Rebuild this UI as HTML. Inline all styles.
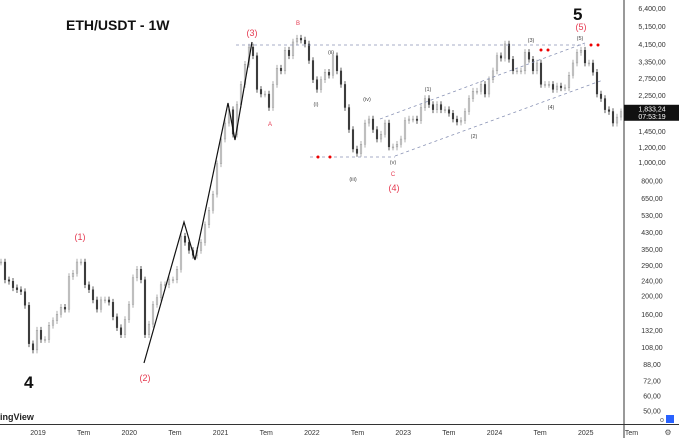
<!DOCTYPE html>
<html><head><meta charset="utf-8"><style>
body{margin:0;background:#fff;width:679px;height:438px;overflow:hidden;font-family:"Liberation Sans",sans-serif}
svg{display:block}
</style></head><body>
<svg id="chart" width="679" height="438" xmlns="http://www.w3.org/2000/svg">
<rect width="679" height="438" fill="#fff"/>
<g id="candles"></g>
<g id="axis"></g>
</svg>
<script>
// biweekly-ish closes (USDT), starting Aug 2018
const closes=[300,242,238,220,215,210,178,112,104,132,118,118,140,148,160,174,170,252,262,300,300,228,215,190,170,190,190,185,155,136,125,150,180,248,275,242,125,142,180,195,228,228,242,242,275,410,380,345,325,345,380,470,560,680,980,1320,1600,1880,1400,2000,2550,3250,4000,3600,2400,2270,2270,1930,2550,3100,3000,3850,3600,4250,4450,4350,4150,3400,2700,2400,2700,2950,2850,3600,3000,2550,1930,1480,1170,1110,1240,1600,1680,1480,1320,1400,1600,1200,1200,1240,1320,1650,1680,1680,1650,1930,2150,2000,1880,2000,1880,1880,1800,1680,1620,1650,1840,2150,2350,2350,2550,2270,2700,3000,3600,3500,4150,3450,3000,3000,3000,3750,3450,3000,3300,2550,2550,2550,2400,2500,2450,2450,2850,3300,3750,3850,3300,3300,2950,2270,2150,1880,1840,1600,1720,1833];
const yTicks=[6400,5150,4150,3350,2750,2250,1450,1200,1000,800,650,530,430,350,290,240,200,160,132,108,88,72,60,50];
const xTickLabels=["2019","Tem","2020","Tem","2021","Tem","2022","Tem","2023","Tem","2024","Tem","2025","Tem"];
const xTickYears=[2019,2019.5,2020,2020.5,2021,2021.5,2022,2022.5,2023,2023.5,2024,2024.5,2025,2025.5];
const NS="http://www.w3.org/2000/svg";
function y(p){return 8+83*Math.log(6400/p);}
function xi(i){return 1+4*i;}
function xYear(t){return 38+(t-2019)*91.3;}
function mk(tag,attrs,parent,text){const e=document.createElementNS(NS,tag);for(const k in attrs)e.setAttribute(k,attrs[k]);if(text!==undefined)e.textContent=text;parent.appendChild(e);return e;}
const cg=document.getElementById('candles');
closes.forEach((c,i)=>{
  const o=i===0?c:closes[i-1];
  const hi=Math.max(o,c)*1.04, lo=Math.min(o,c)*0.96;
  const x=xi(i);
  const up=c>=o;
  const g=mk('g',{},cg);
  
  
  mk('line',{x1:x,x2:x,y1:y(hi),y2:y(lo),stroke:up?'#999':'#333','stroke-width':0.8},g);
  const top=y(Math.max(o,c)),bot=y(Math.min(o,c));
  mk('rect',{x:x-0.9,y:top,width:1.8,height:Math.max(1,bot-top),fill:up?'#ccc':'#333',stroke:up?'#888':'#333','stroke-width':0.3},g);
});
const ax=document.getElementById('axis');
mk('line',{x1:624,x2:624,y1:0,y2:438,stroke:'#333','stroke-width':1},ax);
mk('line',{x1:0,x2:679,y1:424.5,y2:424.5,stroke:'#333','stroke-width':1},ax);
yTicks.forEach(v=>{const t=mk('text',{x:652,y:y(v)+3,'font-size':7,fill:'#333','text-anchor':'middle'},ax,v.toLocaleString('en-US')+',00');
});
xTickLabels.forEach((l,i)=>{const t=mk('text',{x:xYear(xTickYears[i]),y:435,'font-size':7,fill:'#333','text-anchor':'middle'},ax,l);
});
const last=closes[closes.length-1];
const pb=mk('g',{},ax);
mk('rect',{x:624,y:y(last)-7,width:55,height:16,fill:'#111'},pb);
mk('text',{x:652,y:y(last)-0.5,'font-size':7,fill:'#fff','text-anchor':'middle'},pb,last.toLocaleString('en-US')+',24');
mk('text',{x:652,y:y(last)+7,'font-size':7,fill:'#fff','text-anchor':'middle'},pb,'07:53:19');
mk('text',{x:668,y:435,'font-size':8,fill:'#555','text-anchor':'middle'},ax,'⚙');
mk('text',{x:660,y:422,'font-size':7,fill:'#555'},ax,'o');
mk('rect',{x:666,y:415,width:8,height:8,fill:'#2962ff'},ax);
mk('text',{x:0,y:420,'font-size':9,'font-weight':'bold',fill:'#222'},ax,'ingView');
</script>
<svg style="position:absolute;left:0;top:0" width="679" height="438" xmlns="http://www.w3.org/2000/svg" font-family="Liberation Sans, sans-serif">
<g fill="none" stroke="#111" stroke-width="1.2">
<polyline points="144,363 184,222 195,260 228,103 235,140 252,42"/>
</g>
<g fill="none" stroke="#8a93b5" stroke-width="0.8" stroke-dasharray="3,3">
<line x1="236" y1="45" x2="585" y2="45"/>
<line x1="310" y1="157" x2="395" y2="157"/>
<line x1="380" y1="119" x2="585" y2="43"/>
<line x1="395" y1="156" x2="603" y2="80"/>
</g>
<text x="66" y="30" font-size="14" font-weight="bold" fill="#111">ETH/USDT - 1W</text>
<text x="24" y="388" font-size="17" font-weight="bold" fill="#111">4</text>
<text x="573" y="20" font-size="17" font-weight="bold" fill="#111">5</text>
<g fill="#e53950" font-size="9" text-anchor="middle">
<text x="80" y="240">(1)</text><text x="145" y="381">(2)</text><text x="252" y="36">(3)</text>
<text x="394" y="191">(4)</text><text x="581" y="30">(5)</text>
<text x="298" y="25" font-size="6">B</text><text x="270" y="126" font-size="6">A</text><text x="393" y="176" font-size="6">C</text>
</g>
<g fill="#444" font-size="5.5" text-anchor="middle">
<text x="316" y="106">(i)</text><text x="331" y="54">(ii)</text><text x="353" y="181">(iii)</text><text x="367" y="101">(iv)</text><text x="393" y="164">(v)</text>
<text x="428" y="91">(1)</text><text x="474" y="138">(2)</text><text x="531" y="42">(3)</text><text x="551" y="109">(4)</text><text x="580" y="40">(5)</text>
</g>
<g fill="#e00">
<circle cx="318" cy="157" r="1.5"/><circle cx="330" cy="157" r="1.5"/><circle cx="541" cy="50" r="1.5"/><circle cx="548" cy="50" r="1.5"/><circle cx="591" cy="45" r="1.5"/><circle cx="598" cy="45" r="1.5"/>
</g>
</svg>
</body></html>
